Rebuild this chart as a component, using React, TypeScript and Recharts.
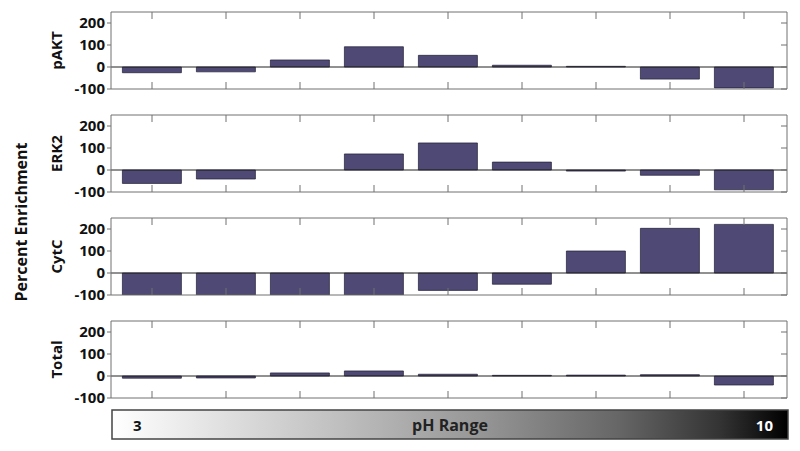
import React from "react";
import { BarChart, Bar, XAxis, YAxis, ReferenceLine } from "recharts";

// nine pH fractions, low to high
const fractions = ["F1", "F2", "F3", "F4", "F5", "F6", "F7", "F8", "F9"];

const pAKT = [-26, -22, 32, 92, 53, 8, 3, -55, -95];
const erk2 = [-61, -41, 0, 73, 123, 36, -5, -24, -90];
const cytC = [-100, -100, -100, -100, -79, -51, 100, 203, 221];
const total = [-10, -9, 14, 23, 8, 3, 4, 6, -41];

const yTicks = [-100, 0, 100, 200];
const yDomain = [-100, 250];

const panelNames = ["pAKT", "ERK2", "CytC", "Total"];
const panelValues = [pAKT, erk2, cytC, total];

const phLow = "3";
const phHigh = "10";

const BAR_COLOR = "#4f4a75";
const FRAME = "#707070";
const FONT = "'Open Sans', 'Noto Sans', sans-serif";
const PANEL_H = 103;

// tick marks only, no labels
const NoLabel = () => <g />;

const Panel = ({ values }: { values: number[] }) => {
  const data = fractions.map((f, i) => ({ fraction: f, value: values[i] }));
  return (
    <BarChart
      width={800}
      height={PANEL_H}
      data={data}
      margin={{ top: 12, right: 13, bottom: 14, left: 51 }}
      barCategoryGap="10%"
    >
      <XAxis
        xAxisId="b"
        dataKey="fraction"
        mirror
        height={1}
        tick={NoLabel}
        tickLine={{ stroke: FRAME }}
        tickSize={7}
        padding={{ left: 4, right: 6 }}
        stroke={FRAME}
      />
      <XAxis
        xAxisId="t"
        orientation="top"
        dataKey="fraction"
        mirror
        height={1}
        tick={NoLabel}
        tickLine={{ stroke: FRAME }}
        tickSize={7}
        padding={{ left: 4, right: 6 }}
        stroke={FRAME}
      />
      <YAxis
        yAxisId="l"
        domain={yDomain}
        ticks={yTicks}
        allowDataOverflow
        interval={0}
        width={60}
        tickSize={4}
        tickMargin={2}
        stroke={FRAME}
        tick={{ fill: "#111", fontSize: 15, fontWeight: 700, fontFamily: FONT }}
      />
      <YAxis
        yAxisId="r"
        orientation="right"
        domain={yDomain}
        ticks={yTicks}
        allowDataOverflow
        interval={0}
        mirror
        width={1}
        tick={NoLabel}
        tickLine={{ stroke: FRAME }}
        tickSize={6}
        stroke={FRAME}
      />
      <ReferenceLine xAxisId="b" yAxisId="l" y={0} stroke="#222" strokeWidth={1} />
      <Bar
        xAxisId="b"
        yAxisId="l"
        dataKey="value"
        fill={BAR_COLOR}
        stroke="#1f1c33"
        strokeWidth={0.7}
        isAnimationActive={false}
      />
    </BarChart>
  );
};

export default function App() {
  return (
    <div
      style={{
        position: "absolute",
        left: 0,
        top: 0,
        width: 800,
        height: 451,
        background: "#fff",
        fontFamily: FONT,
      }}
    >
      {panelValues.map((vals, k) => (
        <div key={panelNames[k]} style={{ position: "absolute", left: 0, top: k * PANEL_H }}>
          <Panel values={vals} />
        </div>
      ))}
      <svg
        width={800}
        height={451}
        style={{ position: "absolute", left: 0, top: 0, pointerEvents: "none" }}
        fontFamily={FONT}
        fontWeight={700}
      >
        <defs>
          <linearGradient id="phGrad" x1="0" y1="0" x2="1" y2="0">
            <stop offset="0" stopColor="#ffffff" />
            <stop offset="0.3" stopColor="#c6c6c6" />
            <stop offset="0.55" stopColor="#959595" />
            <stop offset="0.75" stopColor="#666666" />
            <stop offset="0.9" stopColor="#333333" />
            <stop offset="1" stopColor="#000000" />
          </linearGradient>
        </defs>
        {panelNames.map((name, k) => {
          const cy = k * PANEL_H + 12 + 38.5;
          return (
            <text
              key={name}
              x={56}
              y={cy}
              transform={`rotate(-90 56 ${cy})`}
              textAnchor="middle"
              dominantBaseline="central"
              fontSize={15}
              fill="#111"
            >
              {name}
            </text>
          );
        })}
        <text
          x={21}
          y={222}
          transform="rotate(-90 21 222)"
          textAnchor="middle"
          dominantBaseline="central"
          fontSize={16}
          fill="#111"
        >
          Percent Enrichment
        </text>
        <rect x={112} y={410} width={676} height={29} fill="url(#phGrad)" stroke="#444" strokeWidth={1.5} />
        <text x={133} y={424.5} dominantBaseline="central" fontSize={15} fill="#111">
          {phLow}
        </text>
        <text x={450} y={425} textAnchor="middle" dominantBaseline="central" fontSize={16} fill="#222">
          pH Range
        </text>
        <text x={773} y={424.5} textAnchor="end" dominantBaseline="central" fontSize={15} fill="#fff">
          {phHigh}
        </text>
      </svg>
    </div>
  );
}
